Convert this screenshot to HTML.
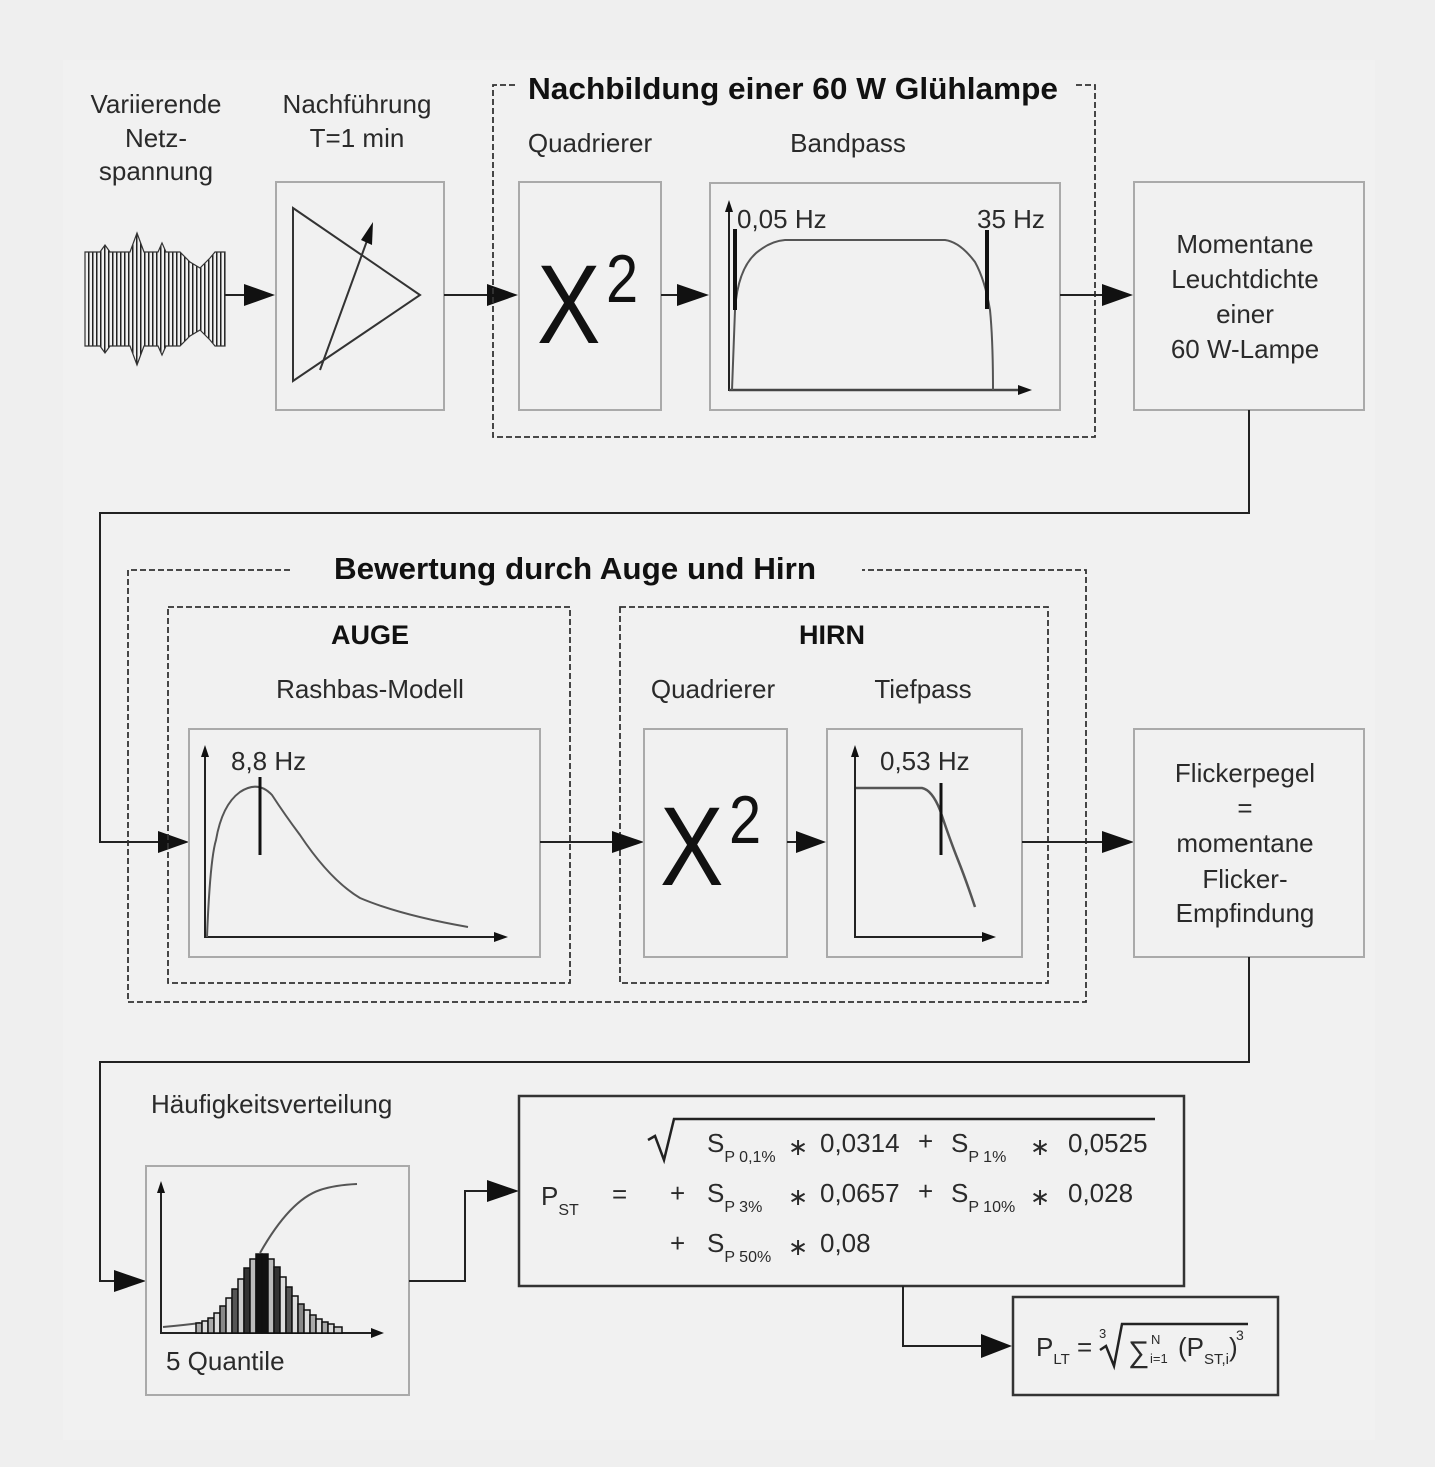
<!DOCTYPE html>
<html><head><meta charset="utf-8"><style>
html,body{margin:0;padding:0;background:#efefef;}
svg{display:block;font-family:"Liberation Sans",sans-serif;}
text{fill:#2a2a2a;}
.t{font-size:26px;}
.b{font-size:31px;font-weight:bold;fill:#111;}
.box{fill:none;stroke:#aaa;stroke-width:2;}
.dash{fill:none;stroke:#333;stroke-width:1.8;stroke-dasharray:6,3;}
.ln{fill:none;stroke:#222;stroke-width:2;}
.cv{fill:none;stroke:#555;stroke-width:2;}
.ah{fill:#111;}
</style></head><body>
<svg width="1435" height="1467" viewBox="0 0 1435 1467" xmlns="http://www.w3.org/2000/svg">
<defs>
<pattern id="vl" width="4" height="10" patternUnits="userSpaceOnUse"><rect x="0" y="0" width="1.5" height="10" fill="#222"/></pattern>
<clipPath id="env"><polygon points="85,252 100,252 105,245 110,252 130,252 137,233 144,252 158,252 162,243 166,252 180,252 190,262 200,268 210,258 215,252 225,252 225,346 215,346 210,340 200,330 190,336 180,346 166,346 162,355 158,346 144,346 137,365 130,346 110,346 105,353 100,346 85,346"/></clipPath>
</defs>
<rect x="63" y="60" width="1312" height="1380" fill="#f1f1f1"/>

<text class="t" x="156" y="113" text-anchor="middle">Variierende</text>
<text class="t" x="156" y="147" text-anchor="middle">Netz-</text>
<text class="t" x="156" y="180" text-anchor="middle">spannung</text>
<text class="t" x="357" y="113" text-anchor="middle">Nachführung</text>
<text class="t" x="357" y="147" text-anchor="middle">T=1 min</text>

<rect x="85" y="230" width="141" height="140" fill="url(#vl)" clip-path="url(#env)"/>
<polygon points="85,252 100,252 105,245 110,252 130,252 137,233 144,252 158,252 162,243 166,252 180,252 190,262 200,268 210,258 215,252 225,252 225,346 215,346 210,340 200,330 190,336 180,346 166,346 162,355 158,346 144,346 137,365 130,346 110,346 105,353 100,346 85,346" fill="none" stroke="#333" stroke-width="1.2"/>
<line x1="225" y1="295" x2="250" y2="295" class="ln"/>
<polygon class="ah" points="244,284 275,295 244,306"/>

<rect class="box" x="276" y="182" width="168" height="228"/>
<polygon points="293,208 420,295 293,381" fill="none" stroke="#333" stroke-width="2"/>
<line x1="320" y1="370" x2="368" y2="238" stroke="#333" stroke-width="2"/>
<polygon class="ah" points="373,222 372,245 361,240"/>
<line x1="444" y1="295" x2="490" y2="295" class="ln"/>
<polygon class="ah" points="487,284 518,295 487,306"/>

<path class="dash" d="M515,85 H493 V437 H1095 V85 H1075"/>
<text class="b" x="793" y="99" text-anchor="middle" textLength="530" lengthAdjust="spacingAndGlyphs">Nachbildung einer 60 W Glühlampe</text>
<text class="t" x="590" y="152" text-anchor="middle">Quadrierer</text>
<text class="t" x="848" y="152" text-anchor="middle">Bandpass</text>

<rect class="box" x="519" y="182" width="142" height="228"/>
<text x="537" y="343" font-size="112" transform="translate(537,343) scale(0.85,1) translate(-537,-343)" style="fill:#111">X</text>
<text x="606" y="302" font-size="68" transform="translate(606,302) scale(0.85,1) translate(-606,-302)" style="fill:#111">2</text>
<line x1="661" y1="295" x2="680" y2="295" class="ln"/>
<polygon class="ah" points="677,284 709,295 677,306"/>

<rect class="box" x="710" y="183" width="350" height="227"/>
<line x1="729" y1="391" x2="729" y2="208" class="ln"/>
<polygon class="ah" points="725,212 729,200 733,212"/>
<line x1="729" y1="390" x2="1022" y2="390" stroke="#444" stroke-width="2.5"/>
<polygon class="ah" points="1018,385 1032,390 1018,395"/>
<path class="cv" d="M732,390 L735,310 Q738,265 760,250 Q772,241 785,240 L945,240 Q960,242 975,262 Q985,280 990,310 Q993,340 993,390"/>
<line x1="735" y1="229" x2="735" y2="310" stroke="#111" stroke-width="4"/>
<line x1="987" y1="230" x2="987" y2="309" stroke="#111" stroke-width="4"/>
<text class="t" x="737" y="228">0,05 Hz</text>
<text class="t" x="977" y="228">35 Hz</text>
<line x1="1060" y1="295" x2="1105" y2="295" class="ln"/>
<polygon class="ah" points="1102,284 1133,295 1102,306"/>

<rect class="box" x="1134" y="182" width="230" height="228"/>
<text class="t" x="1245" y="253" text-anchor="middle">Momentane</text>
<text class="t" x="1245" y="288" text-anchor="middle">Leuchtdichte</text>
<text class="t" x="1245" y="323" text-anchor="middle">einer</text>
<text class="t" x="1245" y="358" text-anchor="middle">60 W-Lampe</text>

<path class="ln" d="M1249,410 V513 H100 V842 H160"/>
<polygon class="ah" points="158,831 189,842 158,853"/>

<path class="dash" d="M290,570 H128 V1002 H1086 V570 H862"/>
<text class="b" x="575" y="579" text-anchor="middle" textLength="482" lengthAdjust="spacingAndGlyphs">Bewertung durch Auge und Hirn</text>
<rect class="dash" x="168" y="607" width="402" height="376"/>
<rect class="dash" x="620" y="607" width="428" height="376"/>
<text class="b" x="370" y="644" text-anchor="middle" style="font-size:27px">AUGE</text>
<text class="b" x="832" y="644" text-anchor="middle" style="font-size:27px">HIRN</text>
<text class="t" x="370" y="698" text-anchor="middle">Rashbas-Modell</text>
<text class="t" x="713" y="698" text-anchor="middle">Quadrierer</text>
<text class="t" x="923" y="698" text-anchor="middle">Tiefpass</text>

<rect class="box" x="189" y="729" width="351" height="228"/>
<line x1="205" y1="938" x2="205" y2="754" class="ln"/>
<polygon class="ah" points="201,757 205,745 209,757"/>
<line x1="205" y1="937" x2="498" y2="937" class="ln"/>
<polygon class="ah" points="494,932 508,937 494,942"/>
<path class="cv" d="M207,937 Q210,860 216,840 Q222,805 240,792 Q258,780 272,795 Q285,815 300,835 Q330,880 360,898 Q400,915 468,927"/>
<line x1="260" y1="777" x2="260" y2="855" stroke="#111" stroke-width="3"/>
<text class="t" x="231" y="770">8,8 Hz</text>
<line x1="540" y1="842" x2="615" y2="842" class="ln"/>
<polygon class="ah" points="612,831 644,842 612,853"/>

<rect class="box" x="644" y="729" width="143" height="228"/>
<text x="660" y="885" font-size="112" transform="translate(660,885) scale(0.85,1) translate(-660,-885)" style="fill:#111">X</text>
<text x="729" y="843" font-size="68" transform="translate(729,843) scale(0.85,1) translate(-729,-843)" style="fill:#111">2</text>
<line x1="787" y1="842" x2="800" y2="842" class="ln"/>
<polygon class="ah" points="796,831 826,842 796,853"/>

<rect class="box" x="827" y="729" width="195" height="228"/>
<line x1="855" y1="938" x2="855" y2="754" class="ln"/>
<polygon class="ah" points="851,757 855,745 859,757"/>
<line x1="855" y1="937" x2="986" y2="937" class="ln"/>
<polygon class="ah" points="982,932 996,937 982,942"/>
<path class="cv" d="M856,788 L922,788 Q932,790 940,810 Q950,840 958,860 Q966,880 975,907" style="stroke-width:2.5"/>
<line x1="941" y1="783" x2="941" y2="855" stroke="#111" stroke-width="3"/>
<text class="t" x="880" y="770">0,53 Hz</text>
<line x1="1022" y1="842" x2="1105" y2="842" class="ln"/>
<polygon class="ah" points="1102,831 1134,842 1102,853"/>

<rect class="box" x="1134" y="729" width="230" height="228"/>
<text class="t" x="1245" y="782" text-anchor="middle">Flickerpegel</text>
<text class="t" x="1245" y="817" text-anchor="middle">=</text>
<text class="t" x="1245" y="852" text-anchor="middle">momentane</text>
<text class="t" x="1245" y="888" text-anchor="middle">Flicker-</text>
<text class="t" x="1245" y="922" text-anchor="middle">Empfindung</text>

<path class="ln" d="M1249,957 V1062 H100 V1281 H118"/>
<polygon class="ah" points="114,1270 146,1281 114,1292"/>

<text class="t" x="151" y="1113">Häufigkeitsverteilung</text>
<rect class="box" x="146" y="1166" width="263" height="229"/>
<line x1="161" y1="1334" x2="161" y2="1190" class="ln"/>
<polygon class="ah" points="157,1193 161,1181 165,1193"/>
<line x1="161" y1="1333" x2="375" y2="1333" class="ln"/>
<polygon class="ah" points="371,1328 384,1333 371,1338"/>
<path class="cv" d="M163,1327 Q185,1325 200,1323 M260,1253 Q290,1200 320,1190 Q335,1185 357,1184"/>
<g stroke="#111" stroke-width="1.5">
<rect x="196" y="1323" width="6" height="10" fill="#aaa"/>
<rect x="202" y="1321" width="6" height="12" fill="#ddd"/>
<rect x="208" y="1318" width="6" height="15" fill="#aaa"/>
<rect x="214" y="1313" width="6" height="20" fill="#ddd"/>
<rect x="220" y="1306" width="6" height="27" fill="#888"/>
<rect x="226" y="1298" width="6" height="35" fill="#ddd"/>
<rect x="232" y="1289" width="6" height="44" fill="#555"/>
<rect x="238" y="1279" width="6" height="54" fill="#ccc"/>
<rect x="244" y="1268" width="6" height="65" fill="#333"/>
<rect x="250" y="1259" width="6" height="74" fill="#bbb"/>
<rect x="256" y="1254" width="6" height="79" fill="#111"/>
<rect x="262" y="1254" width="6" height="79" fill="#111"/>
<rect x="268" y="1259" width="6" height="74" fill="#bbb"/>
<rect x="274" y="1267" width="6" height="66" fill="#333"/>
<rect x="280" y="1277" width="6" height="56" fill="#ddd"/>
<rect x="286" y="1287" width="6" height="46" fill="#555"/>
<rect x="292" y="1296" width="6" height="37" fill="#ddd"/>
<rect x="298" y="1304" width="6" height="29" fill="#888"/>
<rect x="304" y="1310" width="6" height="23" fill="#ddd"/>
<rect x="310" y="1315" width="6" height="18" fill="#aaa"/>
<rect x="316" y="1319" width="6" height="14" fill="#ddd"/>
<rect x="322" y="1322" width="6" height="11" fill="#aaa"/>
<rect x="328" y="1324" width="6" height="9" fill="#ddd"/>
<rect x="334" y="1327" width="8" height="6" fill="#ccc"/>
</g>
<text class="t" x="166" y="1370">5 Quantile</text>

<path class="ln" d="M409,1281 H465 V1191 H490"/>
<polygon class="ah" points="487,1180 519,1191 487,1202"/>

<rect x="519" y="1096" width="665" height="190" fill="none" stroke="#333" stroke-width="2.5"/>
<g class="t">
<text x="541" y="1205">P<tspan font-size="16" dy="10">ST</tspan></text>
<text x="612" y="1203">=</text>
<path d="M648,1140 L655,1136 L664,1160 L674,1119 H1155" fill="none" stroke="#222" stroke-width="2.5"/>
<text x="707" y="1152">S<tspan font-size="16" dy="10">P 0,1%</tspan></text>
<text x="788" y="1155" font-size="24">∗</text>
<text x="820" y="1152">0,0314</text>
<text x="918" y="1150">+</text>
<text x="951" y="1152">S<tspan font-size="16" dy="10">P 1%</tspan></text>
<text x="1030" y="1155" font-size="24">∗</text>
<text x="1068" y="1152">0,0525</text>
<text x="670" y="1202">+</text>
<text x="707" y="1202">S<tspan font-size="16" dy="10">P 3%</tspan></text>
<text x="788" y="1205" font-size="24">∗</text>
<text x="820" y="1202">0,0657</text>
<text x="918" y="1200">+</text>
<text x="951" y="1202">S<tspan font-size="16" dy="10">P 10%</tspan></text>
<text x="1030" y="1205" font-size="24">∗</text>
<text x="1068" y="1202">0,028</text>
<text x="670" y="1252">+</text>
<text x="707" y="1252">S<tspan font-size="16" dy="10">P 50%</tspan></text>
<text x="788" y="1255" font-size="24">∗</text>
<text x="820" y="1252">0,08</text>
</g>

<path class="ln" d="M903,1286 V1346 H985"/>
<polygon class="ah" points="981,1334 1012,1346 981,1358"/>
<rect x="1013" y="1297" width="265" height="98" fill="none" stroke="#333" stroke-width="2.5"/>
<g class="t">
<text x="1036" y="1356">P<tspan font-size="15" dy="8">LT</tspan><tspan dy="-8"> =</tspan></text>
<text x="1099" y="1338" font-size="13">3</text>
<path d="M1100,1350 L1106,1346 L1114,1366 L1122,1324 H1248" fill="none" stroke="#222" stroke-width="2.5"/>
<text x="1128" y="1362" font-size="30">∑</text>
<text x="1151" y="1344" font-size="13">N</text>
<text x="1150" y="1363" font-size="13">i=1</text>
<text x="1178" y="1356">(P<tspan font-size="15" dy="8">ST,i</tspan><tspan dy="-8">)</tspan></text>
<text x="1236" y="1340" font-size="14">3</text>
</g>
</svg>
</body></html>
